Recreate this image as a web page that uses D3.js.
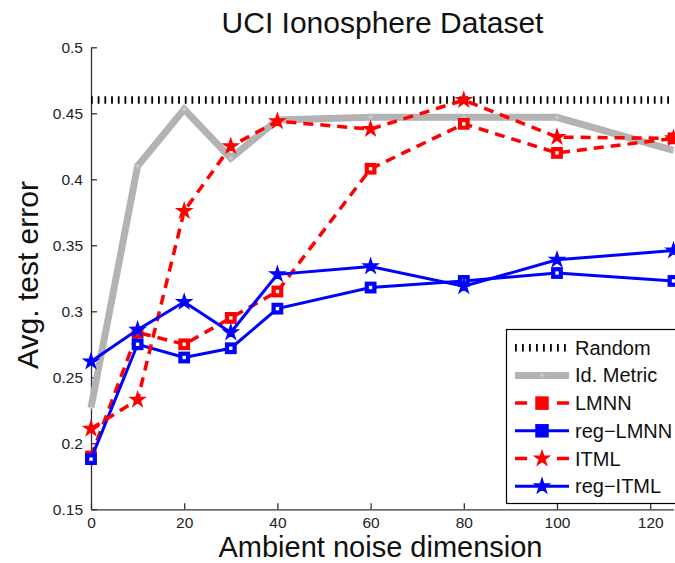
<!DOCTYPE html>
<html>
<head>
<meta charset="utf-8">
<script src="https://cdn.jsdelivr.net/npm/d3@7"></script>
<style>
  body { margin: 0; background: #fff; }
  svg { display: block; font-family: "Liberation Sans", Arial, sans-serif; }
</style>
</head>
<body>
<svg id="chart" width="675" height="563"></svg>
<script>
// data
NOISE_DIMS = [0, 10, 20, 30, 40, 60, 80, 100, 125]
RANDOM_ERR = [0.46, 0.46, 0.46, 0.46, 0.46, 0.46, 0.46, 0.46, 0.46]
ID_METRIC = [0.227, 0.41, 0.453, 0.416, 0.445, 0.447, 0.447, 0.447, 0.422]
LMNN = [0.19, 0.284, 0.275, 0.295, 0.315, 0.408, 0.442, 0.42, 0.431]
REG_LMNN = [0.188, 0.275, 0.265, 0.272, 0.302, 0.318, 0.323, 0.329, 0.323]
ITML = [0.211, 0.233, 0.376, 0.425, 0.444, 0.438, 0.46, 0.432, 0.431]
REG_ITML = [0.262, 0.286, 0.307, 0.284, 0.328, 0.334, 0.319, 0.339, 0.346]
X_TICKS = [0, 20, 40, 60, 80, 100, 120]
Y_TICKS = [0.15, 0.2, 0.25, 0.3, 0.35, 0.4, 0.45, 0.5]
LEGEND_NAMES = ["Random", "Id. Metric", "LMNN", "reg\u2212LMNN", "ITML", "reg\u2212ITML"]

var svg = d3.select("#chart")

var x = d3.scaleLinear().domain([0, 125]).range([91, 673.5])
var y = d3.scaleLinear().domain([0.15, 0.5]).range([509.3, 47.3])

// series styles, in drawing order
var series = [
  {values: RANDOM_ERR, color: "#000", width: 7.5, dash: "1.8,4.9", legendDash: "1.8,5.2", marker: "none"},
  {values: ID_METRIC, color: "#b3b3b3", width: 7, dash: null, legendDash: null, marker: "plus"},
  {values: LMNN, color: "#ff0000", width: 3.5, dash: "10,7", legendDash: "12,30,12", marker: "square"},
  {values: REG_LMNN, color: "#0000ff", width: 3, dash: null, legendDash: null, marker: "square"},
  {values: ITML, color: "#ff0000", width: 3.5, dash: "10,7", legendDash: "12,30,12", marker: "star"},
  {values: REG_ITML, color: "#0000ff", width: 3, dash: null, legendDash: null, marker: "star"}
]

// AXES

svg.append("g")
  .attr("transform", "translate(" + x(0) + ",0)")
  .call(d3.axisLeft(y).tickValues(Y_TICKS).tickSize(-6).tickSizeOuter(0).tickPadding(8)
    .tickFormat(function(d){ return String(+d.toFixed(2)) }))

svg.append("g")
  .attr("transform", "translate(0," + y(0.15) + ")")
  .call(d3.axisBottom(x).tickValues(X_TICKS).tickSize(-6).tickSizeOuter(0).tickPadding(7.5))

svg.selectAll(".domain, .tick line").attr("stroke", "#333").attr("stroke-width", 1.3)
svg.selectAll(".tick text")
  .attr("font-size", 15.5)
  .attr("fill", "#222")
  .style("font-family", "Liberation Sans, Arial, sans-serif")

// LINES

var line = d3.line()
  .x(function(d, i){ return x(NOISE_DIMS[i]) })
  .y(function(d){ return y(d) })

function drawMarkers(g, s, points, big) {
  if (s.marker === "square") {
    var side = big ? 12 : 7.6
    g.selectAll("rect")
      .data(points)
      .enter()
      .append("rect")
        .attr("x", function(d){ return d[0] - side / 2 })
        .attr("y", function(d){ return d[1] - side / 2 })
        .attr("width", side)
        .attr("height", side)
        .attr("fill", big ? s.color : "#fff")
        .attr("stroke", s.color)
        .attr("stroke-width", big ? 1.5 : 4.2)
  } else if (s.marker === "star") {
    g.selectAll("path.mk")
      .data(points)
      .enter()
      .append("path")
        .attr("class", "mk")
        .attr("transform", function(d){ return "translate(" + d[0] + "," + d[1] + ")" })
        .attr("d", d3.symbol(d3.symbolStar, 62)())
        .attr("fill", s.color)
        .attr("stroke", s.color)
        .attr("stroke-width", 1.5)
  } else if (s.marker === "plus") {
    g.selectAll("path.mk")
      .data(points)
      .enter()
      .append("path")
        .attr("class", "mk")
        .attr("transform", function(d){ return "translate(" + d[0] + "," + d[1] + ")" })
        .attr("d", "M-2.5,0H2.5M0,-2.5V2.5")
        .attr("stroke", "#d2d2d2")
        .attr("stroke-width", 1)
  }
}

series.forEach(function(s){
  var g = svg.append("g")
  g.append("path")
    .attr("d", line(s.values))
    .attr("fill", "none")
    .attr("stroke", s.color)
    .attr("stroke-width", s.width)
    .attr("stroke-dasharray", s.dash)
    .attr("stroke-linejoin", "miter")
  var points = s.values.map(function(d, i){ return [x(NOISE_DIMS[i]), y(d)] })
  drawMarkers(g, s, points, false)
})

// LEGEND

var legend = svg.append("g")
legend.append("rect")
  .attr("x", 506.5)
  .attr("y", 329.5)
  .attr("width", 180)
  .attr("height", 174)
  .attr("fill", "#fff")
  .attr("stroke", "#000")
  .attr("stroke-width", 1.2)

series.forEach(function(s, i){
  var cy = 347.7 + i * 27.7
  var row = legend.append("g")
  row.append("path")
    .attr("d", "M515," + cy + "H569")
    .attr("fill", "none")
    .attr("stroke", s.color)
    .attr("stroke-width", s.width)
    .attr("stroke-dasharray", s.legendDash)
  drawMarkers(row, s, [[542, cy]], true)
  row.append("text")
    .attr("x", 575)
    .attr("y", cy + 7)
    .attr("font-size", 20)
    .attr("fill", "#111")
    .text(LEGEND_NAMES[i])
})

// TITLES

svg.append("text")
  .attr("x", 382.5)
  .attr("y", 33)
  .attr("text-anchor", "middle")
  .attr("font-size", 30)
  .attr("fill", "#111")
  .text("UCI Ionosphere Dataset")

svg.append("text")
  .attr("x", 380.5)
  .attr("y", 556.5)
  .attr("text-anchor", "middle")
  .attr("font-size", 29)
  .attr("fill", "#111")
  .text("Ambient noise dimension")

svg.append("text")
  .attr("transform", "translate(38,275) rotate(-90)")
  .attr("text-anchor", "middle")
  .attr("font-size", 30)
  .attr("fill", "#111")
  .text("Avg. test error")
</script>
</body>
</html>
